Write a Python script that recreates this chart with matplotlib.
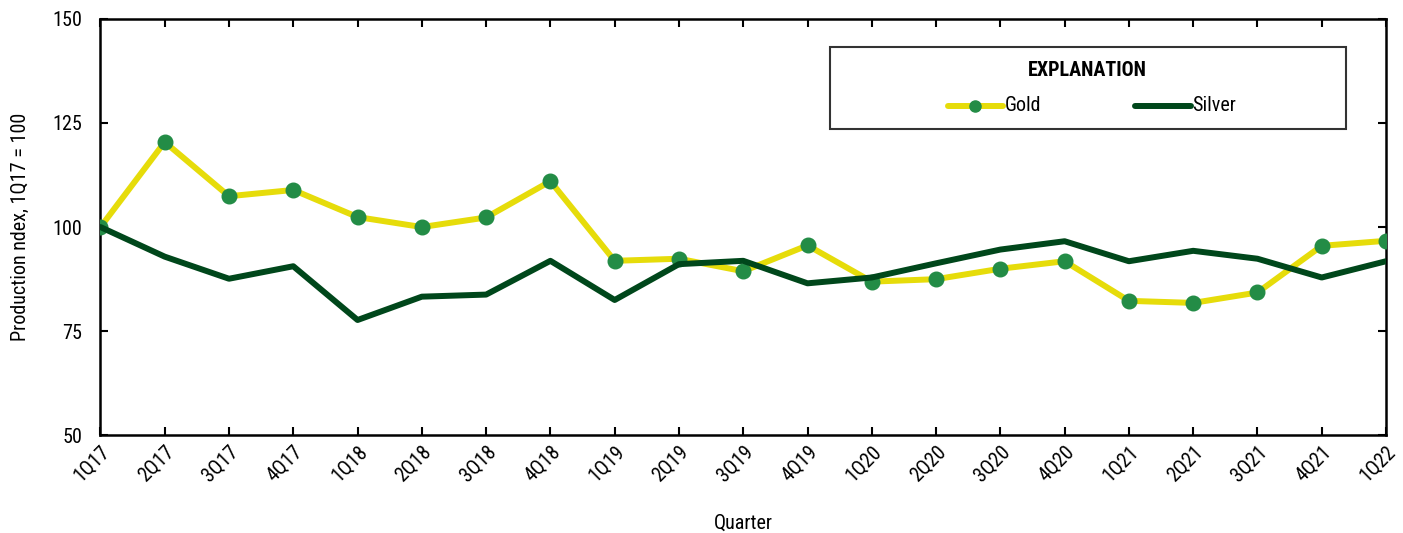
import matplotlib
matplotlib.use("Agg")
from matplotlib import pyplot as plt
from matplotlib.patches import Rectangle
from matplotlib.lines import Line2D

quarters = ['1Q17', '2Q17', '3Q17', '4Q17', '1Q18', '2Q18', '3Q18', '4Q18',
            '1Q19', '2Q19', '3Q19', '4Q19', '1Q20', '2Q20', '3Q20', '4Q20',
            '1Q21', '2Q21', '3Q21', '4Q21', '1Q22']
gold = [100.0, 120.4, 107.4, 108.9, 102.4, 100.0, 102.3, 111.0,
        91.9, 92.4, 89.4, 95.6, 86.9, 87.5, 90.0, 91.8,
        82.3, 81.8, 84.3, 95.5, 96.7]
silver = [100.0, 92.9, 87.6, 90.6, 77.7, 83.3, 83.8, 91.9,
          82.5, 91.1, 91.9, 86.5, 87.9, 91.3, 94.6, 96.6,
          91.8, 94.3, 92.4, 87.9, 91.8]
y_ticks = [50, 75, 100, 125, 150]

GOLD = '#e6dc0a'
MARK = '#238c46'
SILVER = '#00471b'
FS = 14.5

plt.rcParams['font.family'] = ['Roboto Condensed', 'Liberation Sans Narrow', 'DejaVu Sans']
plt.rcParams['font.stretch'] = 'condensed'
plt.rcParams['font.size'] = FS

fig = plt.figure(figsize=(14.03, 5.33), dpi=100)
ax = fig.add_axes([0.0716, 0.183, 0.9163, 0.782])

x = list(range(len(quarters)))
ax.plot(x, gold, color=GOLD, lw=4.3, marker='o', ms=10.5,
        mfc=MARK, mec=MARK, solid_capstyle='round', zorder=3)
ax.plot(x, silver, color=SILVER, lw=4.3, solid_capstyle='round', zorder=4)

ax.set_xlim(0, len(quarters) - 1)
ax.set_ylim(50, 150)
ax.set_xticks(x)
ax.set_xticklabels(quarters, rotation=45, ha='right', rotation_mode='anchor')
ax.set_yticks(y_ticks)
ax.tick_params(direction='in', length=6, width=1.5, top=True, right=True,
               labelsize=FS, color='black')
ax.tick_params(axis='y', pad=13)
ax.tick_params(axis='x', pad=5)
for s in ax.spines.values():
    s.set_linewidth(1.8)

ax.set_ylabel('Production ndex, 1Q17 = 100', fontsize=FS, labelpad=16)
ax.set_xlabel('Quarter', fontsize=FS, labelpad=20)

# explanation box
ax.add_patch(Rectangle((0.5675, 0.735), 0.401, 0.197, transform=ax.transAxes,
                       fill=False, edgecolor='#333333', lw=1.5, zorder=5))
ax.text(0.768, 0.875, 'EXPLANATION', transform=ax.transAxes, ha='center',
        va='center', fontweight='bold', zorder=6)
ly = 0.791
ax.add_line(Line2D([0.659, 0.702], [ly, ly], transform=ax.transAxes,
                   color=GOLD, lw=4.3, solid_capstyle='round', zorder=6))
ax.add_line(Line2D([0.6805], [ly], transform=ax.transAxes, marker='o',
                   ms=8, mfc=MARK, mec=MARK, zorder=7))
ax.text(0.7035, ly, 'Gold', transform=ax.transAxes, va='center', zorder=6)
ax.add_line(Line2D([0.805, 0.848], [ly, ly], transform=ax.transAxes,
                   color=SILVER, lw=4.3, solid_capstyle='round', zorder=6))
ax.text(0.8495, ly, 'Silver', transform=ax.transAxes, va='center', zorder=6)

fig.savefig('out.png', dpi=100)
